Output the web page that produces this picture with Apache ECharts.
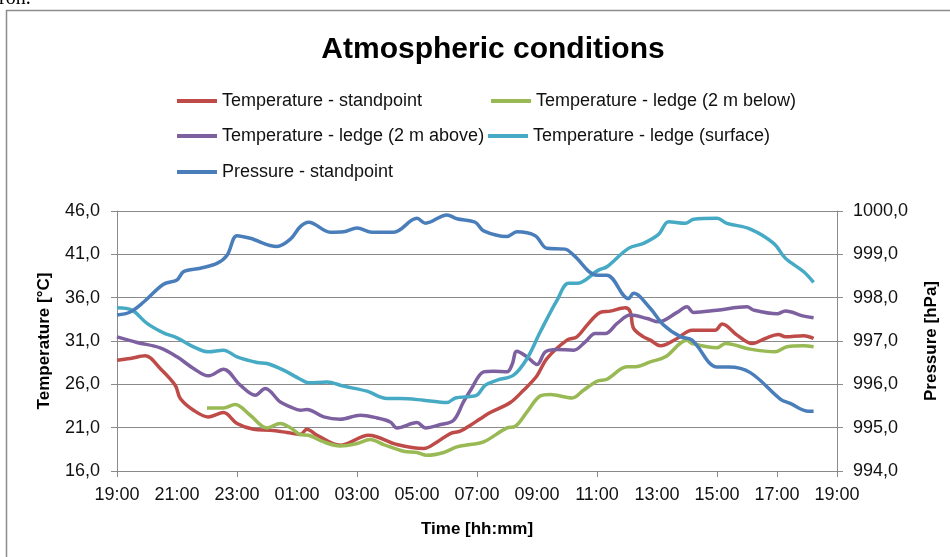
<!DOCTYPE html>
<html>
<head>
<meta charset="utf-8">
<script src="https://cdn.jsdelivr.net/npm/echarts@6/dist/echarts.min.js"></script>
<style>
html,body{margin:0;padding:0;background:#fff;}
#chart{width:950px;height:557px;}
</style>
</head>
<body>
<div id="chart"></div>
<script>
// x values are hours elapsed since 19:00
const tickLabels = ['19:00','21:00','23:00','01:00','03:00','05:00','07:00','09:00','11:00','13:00','15:00','17:00','19:00'];
const seriesNames = ['Temperature - standpoint','Temperature - ledge (2 m below)','Temperature - ledge (2 m above)','Temperature - ledge (surface)','Pressure - standpoint'];

const tempStandpoint = [
  [0,28.79],[0.44,28.97],[0.94,29.29],[1.44,27.83],[1.94,25.90],[2.11,24.36],[2.55,23.01],[3.05,22.24],
  [3.55,22.74],[4.0,21.48],[4.55,20.82],[5.11,20.70],[5.67,20.44],[6.11,20.21],[6.33,20.82],[6.67,20.12],
  [7.44,18.97],[8.39,20.12],[9.33,19.05],[10.22,18.59],[10.67,19.35],[11.11,20.32],[11.44,20.59],[11.78,21.28],
  [12.1,22.0],[12.44,22.74],[13.11,23.90],[13.55,25.32],[14.0,27.0],[14.33,28.98],[15.0,31.10],[15.33,31.48],
  [15.67,32.83],[16.11,34.30],[16.44,34.45],[16.94,34.83],[17.11,34.37],[17.22,32.45],[17.55,31.48],[17.78,31.10],
  [18.11,30.44],[18.67,31.29],[19.17,32.25],[19.94,32.25],[20.17,32.95],[20.67,31.68],[21.17,30.71],[21.61,31.29],
  [22.05,31.75],[22.28,31.48],[22.89,31.60],[23.22,31.29]
];
const tempLedgeBelow = [
  [3.0,23.28],[3.55,23.28],[3.94,23.67],[4.44,22.43],[5.0,20.97],[5.44,21.48],[5.78,21.0],[6.11,20.21],
  [6.39,20.12],[6.89,19.35],[7.44,18.89],[8.0,19.17],[8.44,19.63],[8.89,19.05],[9.55,18.28],[10.0,18.13],
  [10.33,17.81],[10.89,18.13],[11.33,18.78],[11.78,19.05],[12.22,19.35],[13.0,20.97],[13.28,21.16],[13.67,22.82],
  [14.11,24.67],[14.44,24.83],[15.17,24.43],[15.55,25.32],[16.0,26.36],[16.33,26.59],[17.0,28.02],[17.28,28.02],
  [17.78,28.59],[18.28,29.17],[19.0,31.10],[19.17,30.71],[20.0,30.21],[20.28,30.71],[21.11,30.06],[21.94,29.75],
  [22.33,30.33],[22.89,30.44],[23.22,30.33]
];
const tempLedgeAbove = [
  [0,31.48],[0.67,30.83],[1.44,30.21],[2.0,29.17],[2.55,27.83],[3.05,26.98],[3.55,27.75],[4.11,25.90],
  [4.61,24.75],[4.94,25.52],[5.44,23.97],[5.78,23.4],[6.11,23.01],[6.33,23.09],[6.89,22.24],[7.44,21.97],
  [8.11,22.43],[8.67,22.12],[9.11,21.66],[9.33,20.97],[10.0,21.59],[10.28,20.97],[10.78,21.36],[11.22,21.86],
  [11.55,23.97],[11.8,25.4],[12.22,27.44],[12.55,27.52],[13.0,27.44],[13.17,28.29],[13.33,29.83],[13.67,29.17],
  [14.0,28.29],[14.28,29.75],[14.67,30.02],[15.22,29.94],[15.61,30.90],[15.94,31.87],[16.28,31.87],[16.67,33.03],
  [17.11,33.99],[17.67,33.60],[18.05,33.21],[18.67,34.30],[19.0,34.95],[19.22,34.30],[20.0,34.56],[21.0,34.95],
  [21.22,34.56],[22.0,34.14],[22.28,34.45],[22.89,33.87],[23.22,33.68]
];
const tempSurface = [
  [0,34.83],[0.5,34.56],[1.0,33.03],[1.55,31.94],[2.0,31.37],[2.55,30.33],[3.05,29.75],[3.55,29.94],
  [4.0,29.17],[4.67,28.52],[5.0,28.40],[5.55,27.63],[6.11,26.59],[6.39,26.17],[7.0,26.28],[7.55,25.79],
  [8.33,25.21],[9.0,24.36],[9.44,24.36],[10.22,24.17],[11.0,23.90],[11.28,24.43],[11.78,24.60],[12.0,24.75],
  [12.28,25.90],[12.67,26.48],[13.22,27.06],[13.67,28.98],[14.11,32.06],[14.67,35.72],[15.05,37.65],[15.33,37.65],
  [16.05,39.18],[16.33,39.57],[17.05,41.69],[17.55,42.27],[18.05,43.30],[18.39,44.76],[18.94,44.58],[19.22,45.04],
  [20.0,45.16],[20.33,44.58],[21.11,43.92],[21.89,42.27],[22.28,40.54],[22.89,38.99],[23.22,37.76]
];
const pressureStandpoint = [
  [0,997.60],[0.44,997.67],[0.89,997.90],[1.55,998.31],[2.0,998.41],[2.22,998.60],[2.78,998.68],[3.33,998.79],
  [3.67,998.98],[4.0,999.43],[4.44,999.37],[5.33,999.18],[5.78,999.35],[6.11,999.64],[6.39,999.74],[7.11,999.51],
  [7.55,999.52],[8.0,999.61],[8.5,999.51],[9.22,999.51],[10.0,999.83],[10.28,999.72],[11.0,999.91],[11.33,999.82],
  [11.94,999.74],[12.22,999.54],[13.0,999.41],[13.33,999.52],[13.94,999.43],[14.33,999.14],[14.94,999.12],[15.22,998.98],
  [16.0,998.52],[16.33,998.52],[17.05,997.98],[17.22,998.10],[17.78,997.75],[18.22,997.37],[18.78,997.10],[19.17,997.02],
  [20.0,996.40],[20.39,996.40],[21.11,996.27],[22.11,995.66],[22.44,995.56],[23.05,995.38],[23.22,995.38]
];

const colors = ['#BE4B48','#98B954','#7D60A0','#46AAC5','#4A7EBB'];
const FONT = '"Liberation Sans", Arial, sans-serif';
const GRID_COL = '#8a8a8a';

const chart = echarts.init(document.getElementById('chart'), null, {renderer:'canvas'});
const fmtNum = v => v.toFixed(1).replace('.', ',');

function legendAt(i, left, top){
  return {
    data:[seriesNames[i]], left:left, top:top, icon:'rect', itemWidth:40, itemHeight:4,
    textStyle:{fontFamily:FONT, fontSize:18, color:'#111'}, padding:0, selectedMode:false
  };
}

const dataList = [tempStandpoint, tempLedgeBelow, tempLedgeAbove, tempSurface, pressureStandpoint];

chart.setOption({
  backgroundColor:'#fff',
  animation:false,
  title:{text:'Atmospheric conditions', left:488, top:30, textAlign:'center',
    textStyle:{fontFamily:FONT, fontSize:30, fontWeight:'bold', color:'#000'}},
  legend:[
    legendAt(0,177,92),
    legendAt(1,491,92),
    legendAt(2,177,127),
    legendAt(3,488,127),
    legendAt(4,177,163)
  ],
  graphic:[
    {type:'polyline', shape:{points:[[6.5,600],[6.5,10.5],[960,10.5]]}, style:{stroke:'#8c8c8c', lineWidth:1.5, fill:null}, silent:true},
    {type:'text', left:-1, top:-11, style:{text:'ron.', font:'20px "Liberation Serif", serif', fill:'#000'}}
  ],
  grid:{left:117, right:113, top:211, bottom:86, containLabel:false},
  xAxis:{
    type:'value', min:0, max:24, interval:2,
    name:'Time [hh:mm]', nameLocation:'middle', nameGap:50,
    nameTextStyle:{fontFamily:FONT, fontSize:17, fontWeight:'bold', color:'#000'},
    axisLine:{show:true, onZero:false, lineStyle:{color:GRID_COL, width:1}},
    axisTick:{show:true, length:6, customValues:[0,4,8,12,16,20,22,24], lineStyle:{color:GRID_COL}},
    axisLabel:{fontFamily:FONT, fontSize:18, color:'#111', margin:15, formatter:v => tickLabels[Math.round(v/2)]},
    splitLine:{show:false}
  },
  yAxis:[
    {type:'value', min:16, max:46, interval:5, position:'left',
      name:'Temperature [°C]', nameLocation:'middle', nameGap:64, nameRotate:90,
      nameTextStyle:{fontFamily:FONT, fontSize:17, fontWeight:'bold', color:'#000'},
      axisLine:{show:true, lineStyle:{color:GRID_COL, width:1}},
      axisTick:{show:true, length:6, lineStyle:{color:GRID_COL}},
      axisLabel:{fontFamily:FONT, fontSize:18, color:'#111', margin:17, formatter:fmtNum},
      splitLine:{show:true, lineStyle:{color:GRID_COL, width:1}}
    },
    {type:'value', min:994, max:1000, interval:1, position:'right',
      name:'Pressure [hPa]', nameLocation:'middle', nameGap:86, nameRotate:90,
      nameTextStyle:{fontFamily:FONT, fontSize:17, fontWeight:'bold', color:'#000'},
      axisLine:{show:true, lineStyle:{color:GRID_COL, width:1}},
      axisTick:{show:true, length:6, lineStyle:{color:GRID_COL}},
      axisLabel:{fontFamily:FONT, fontSize:18, color:'#111', margin:16, formatter:fmtNum},
      splitLine:{show:false}
    }
  ],
  series: dataList.map((d, i) => ({
    name: seriesNames[i], type:'line', yAxisIndex: i === 4 ? 1 : 0,
    data: d, smooth:0.35, showSymbol:false, symbol:'none',
    lineStyle:{color:colors[i], width:3.5}, itemStyle:{color:colors[i]},
    z: 2 + i
  }))
});
</script>
</body>
</html>
